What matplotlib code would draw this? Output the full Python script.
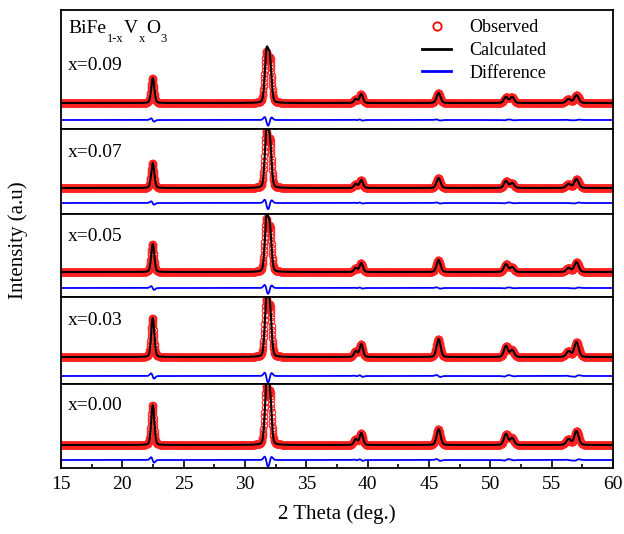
import numpy as np
import matplotlib
matplotlib.use('Agg')
import matplotlib.pyplot as plt
from matplotlib.lines import Line2D
from matplotlib.ticker import MultipleLocator

plt.rcParams['font.family'] = 'Liberation Serif'

# Data ---------------------------------------
labels = ['x=0.09', 'x=0.07', 'x=0.05', 'x=0.03', 'x=0.00']
peak_pos = [22.45, 31.72, 32.05, 39.0, 39.45, 45.75, 51.3, 51.75, 56.35, 57.05]
peak_fwhm = [0.30, 0.32, 0.32, 0.32, 0.32, 0.38, 0.38, 0.38, 0.42, 0.42]
# peak heights (arbitrary units) for each composition
h_009 = [25, 48, 42, 4, 9, 10, 6, 6, 4, 8]
h_007 = [25, 53, 45, 4, 8, 10, 7, 5, 4, 9]
h_005 = [28, 50, 42, 4, 9, 12, 8, 5, 4, 10]
h_003 = [39, 54, 48, 6, 13, 18, 11, 7, 6, 15]
h_000 = [40, 55, 50, 6, 12, 16, 11, 7, 6, 14]
heights = [h_009, h_007, h_005, h_003, h_000]
# refinement misfit: small shift of calculated peaks
calc_shift = [0.03, 0.03, -0.03, 0.03, 0.03, 0.03, -0.03, 0.03, 0.03, -0.03]
diff_offset = [-17, -15, -16, -19, -15]

tt = np.arange(15, 60.001, 0.02)


def profile(x, pos, fwhm, h, shift=None):
    y = np.zeros_like(x)
    for i in range(len(pos)):
        p = pos[i] + (shift[i] if shift else 0)
        s = fwhm[i] / 2.355
        g = np.exp(-0.5 * ((x - p) / s) ** 2)
        l = 1 / (1 + ((x - p) / (fwhm[i] / 2)) ** 2)
        y += h[i] * (0.8 * g + 0.2 * l)
    return y


# panel layout in pixels (top, bottom, baseline)
W, H = 624, 534
left, right = 61, 613
panels = [(10, 129, 103), (129, 214, 188), (214, 297, 272), (297, 384, 357), (384, 468, 445)]

fig = plt.figure(figsize=(W / 100, H / 100), dpi=100)
axes = []
for k, (top, bot, base) in enumerate(panels):
    ax = fig.add_axes([left / W, 1 - bot / H, (right - left) / W, (bot - top) / H])
    obs = profile(tt, peak_pos, peak_fwhm, heights[k])
    calc = profile(tt, peak_pos, peak_fwhm, heights[k], calc_shift)
    diff = 0.5 * (obs - calc) + diff_offset[k]
    ax.plot(tt, obs, 'o', mfc='none', mec='#ff2020', ms=4.6, mew=0.9, alpha=0.9)
    ax.plot(tt, calc, '-', color='black', lw=1.5)
    ax.plot(tt, diff, '-', color='blue', lw=1.3)
    ax.set_xlim(15, 60)
    ax.set_ylim(base - bot, base - top)
    ax.set_yticks([])
    for sp in ax.spines.values():
        sp.set_linewidth(1.3)
    axes.append(ax)

# composition labels
label_y = [70, 157, 241, 325, 410]
for k, ax in enumerate(axes):
    fig.text(68 / W, 1 - label_y[k] / H, labels[k], fontsize=14, va='baseline', ha='left')

# formula with lowered subscripts
parts = [('BiFe', 14, 0), ('1-x', 9, -6), ('V', 14, 0), ('x', 9, -6), ('O', 14, 0), ('3', 9, -6)]
prev = fig.text(68 / W, 1 - 33 / H, parts[0][0], fontsize=parts[0][1], va='baseline', ha='left')
prev_off = 0
for txt, fs, off in parts[1:]:
    prev = axes[0].annotate(txt, xy=(1, 0), xycoords=prev, xytext=(0.5, off - prev_off),
                            textcoords='offset points', fontsize=fs, va='bottom', ha='left',
                            annotation_clip=False)
    prev_off = off

for ax in axes[:-1]:
    ax.set_xticks([])
axb = axes[-1]
axb.xaxis.set_major_locator(MultipleLocator(5))
axb.xaxis.set_minor_locator(MultipleLocator(2.5))
axb.tick_params(axis='x', which='major', direction='in', length=6, width=1.2, labelsize=14, pad=6)
axb.tick_params(axis='x', which='minor', direction='in', length=3, width=1.2)
axb.set_xlabel('2 Theta (deg.)', fontsize=15, labelpad=8)

fig.text(18 / W, 1 - 240 / H, 'Intensity (a.u)', rotation=90, fontsize=15, va='center', ha='center')

handles = [Line2D([], [], marker='o', ls='none', mfc='none', mec='red', ms=6, mew=1.3),
           Line2D([], [], color='black', lw=2),
           Line2D([], [], color='blue', lw=2)]
axes[0].legend(handles, ['Observed', 'Calculated', 'Difference'], loc='upper left',
               bbox_to_anchor=((406 - left) / (right - left), 1.06), frameon=False,
               fontsize=13, handlelength=1.6, handletextpad=1.0, labelspacing=0.32)

fig.savefig('out.png', dpi=100)
